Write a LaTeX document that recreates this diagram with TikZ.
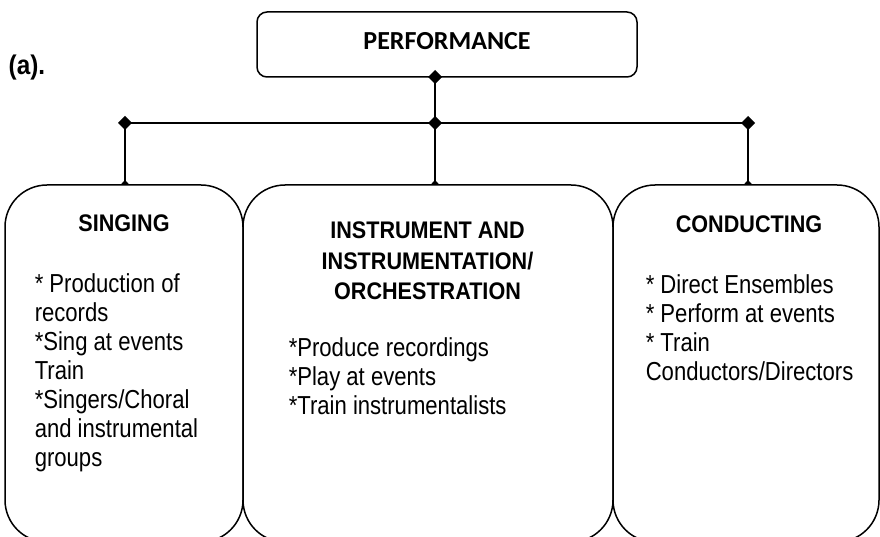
\documentclass[tikz,border=0pt]{standalone}
\usepackage{fontspec}
\usetikzlibrary{positioning,arrows.meta}

\newfontfamily\topfont{Carlito}
\newfontfamily\headfont[FakeStretch=0.9]{Liberation Sans}
\newfontfamily\bodyfont[FakeStretch=0.85]{Liberation Sans}

\begin{document}
\begin{tikzpicture}[x=1pt,y=-1pt,line width=1.5pt,
                    knot/.tip={Diamond[length=14pt,width=14pt]},
                    foot/.tip={Triangle[reversed,width=9pt,length=5pt]},
                    top node/.style={draw,rounded corners=10pt,inner sep=0pt,outer sep=0pt,minimum width=380pt,minimum height=65pt,text depth=8pt,font=\topfont\bfseries\fontsize{26}{30}\selectfont},
                    box node/.style={draw,rounded corners=42pt,inner sep=0pt,outer sep=0pt,minimum height=357pt},
                    head node/.style={inner sep=0pt,align=center,font=\headfont\bfseries\fontsize{24}{30.5}\selectfont},
                    text node/.style={anchor=north west,inner sep=0pt,align=left,font=\bodyfont\fontsize{26}{29}\selectfont}]
                    \path[use as bounding box,clip] (0,0) rectangle (880,537);

                    \node[font=\headfont\bfseries\fontsize{27}{30}\selectfont,anchor=base west,inner sep=0pt] (a) at (8,75) {(a).};

                    \node[top node] (1) at (447,44.5) {PERFORMANCE};

                    \node[box node,minimum width=238pt] (2) at (124,363.5) {};
                    \node[box node,minimum width=370pt] (3) [right=0pt of 2] {};
                    \node[box node,minimum width=266pt] (4) [right=0pt of 3] {};

                    \node[head node,anchor=base] (2h) at (124,232) {SINGING};
                    \node[head node,anchor=north] (3h) at (427.5,216.6) {\strut INSTRUMENT AND\\INSTRUMENTATION/\\ORCHESTRATION};
                    \node[head node,anchor=base] (4h) at (749,233) {CONDUCTING};

                    \node[text node] (2t) at (34,271.7) {\strut* Production of\\records\\*Sing at events\\Train\\*Singers/Choral\\and instrumental\\groups};
                    \node[text node] (3t) at (288,335.7) {\strut*Produce recordings\\*Play at events\\*Train instrumentalists};
                    \node[text node] (4t) at (645,272.7) {\strut* Direct Ensembles\\* Perform at events\\* Train\\Conductors/Directors};

                    \coordinate (c) at (435,123);
                    \coordinate (l) at (125,123);
                    \coordinate (r) at (748,123);

                    \path[draw]
                            (1.south -| c) edge [knot-knot,shorten <=-7pt,shorten >=-7pt] (c)
                            (l) edge [knot-knot,shorten <=-7pt,shorten >=-7pt] (r)

                            (l) edge [-foot] (l |- 2.north)
                            (c) edge [-foot] (c |- 3.north)
                            (r) edge [-foot] (r |- 4.north)
                        ;
                \end{tikzpicture}
\end{document}
